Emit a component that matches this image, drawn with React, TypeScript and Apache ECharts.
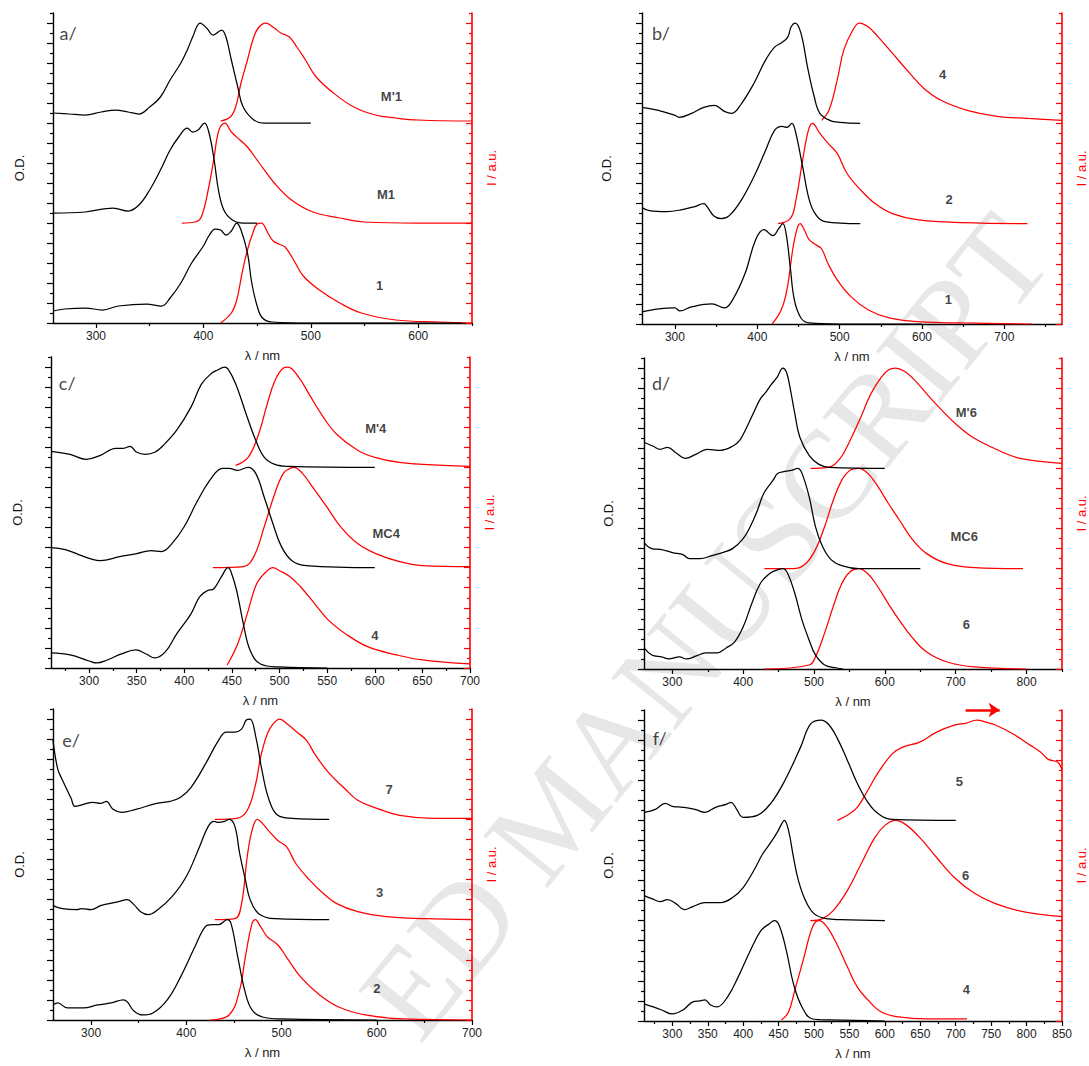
import React, { useEffect, useRef } from "react";
import * as echarts from "echarts";

type P = [number, number];

// ---------------- panel a ----------------
const aAbsM1p: P[] = [[260,0.10],[275,0.09],[290,0.08],[305,0.11],[318,0.13],[330,0.11],[340,0.09],[350,0.16],[360,0.26],[369,0.43],[379,0.60],[385,0.73],[390,0.86],[397,1.0],[403,0.95],[409,0.88],[417,0.93],[421,0.86],[426,0.63],[432,0.36],[437,0.16],[447,0.03],[456,0.0],[500,0.0]];
const aEmM1p: P[] = [[416,0.02],[425,0.06],[430,0.16],[435,0.40],[441,0.63],[446,0.83],[451,0.95],[458,1.0],[466,0.95],[472,0.90],[480,0.86],[487,0.76],[495,0.63],[505,0.46],[521,0.30],[540,0.16],[560,0.08],[579,0.05],[600,0.03],[650,0.02]];
const aAbsM1: P[] = [[260,0.10],[290,0.11],[316,0.15],[330,0.12],[340,0.18],[350,0.33],[360,0.53],[369,0.73],[377,0.86],[385,0.95],[390,0.91],[395,0.93],[401,1.0],[405,0.91],[410,0.63],[414,0.33],[419,0.13],[427,0.03],[437,0.0],[450,0.0]];
const aEmM1: P[] = [[380,0.0],[392,0.01],[398,0.06],[405,0.36],[410,0.66],[414.5,0.93],[420,1.0],[426,0.91],[434,0.83],[441,0.76],[452,0.60],[466,0.40],[482,0.23],[502,0.11],[527,0.05],[550,0.01],[600,0.0],[650,0.0]];
const aAbs1: P[] = [[260,0.12],[271,0.14],[290,0.15],[306,0.13],[321,0.17],[347,0.19],[361,0.17],[369,0.25],[379,0.40],[389,0.60],[400,0.77],[405,0.87],[411,0.94],[416,0.93],[421,0.88],[426,0.92],[431,1.0],[435,0.93],[441,0.70],[445,0.40],[450,0.17],[455,0.05],[464,0.01],[500,0.0],[640,0.0]];
const aEm1: P[] = [[416,0.0],[426,0.10],[431,0.23],[436,0.50],[441,0.73],[446,0.90],[450,0.99],[454,1.0],[460,0.90],[465,0.82],[470,0.79],[476,0.76],[484,0.63],[493,0.47],[508,0.33],[527,0.20],[547,0.10],[579,0.03],[620,0.01],[650,0.0]];

// ---------------- panel b ----------------
const bAbs4: P[] = [[260,0.16],[280,0.13],[300,0.08],[305,0.06],[320,0.10],[335,0.16],[348,0.18],[360,0.12],[369,0.10],[381,0.20],[396,0.40],[410,0.63],[421,0.76],[429,0.80],[437,0.86],[441,0.96],[446,1.0],[453,0.90],[461,0.56],[469,0.27],[476,0.10],[488,0.03],[500,0.01],[525,0.0]];
const bEm4: P[] = [[478,0.03],[487,0.13],[497,0.43],[505,0.73],[516,0.93],[524,1.0],[535,0.96],[547,0.86],[564,0.70],[585,0.50],[602,0.35],[623,0.23],[655,0.13],[691,0.07],[729,0.05],[770,0.03]];
const bAbs2: P[] = [[260,0.16],[269,0.13],[290,0.12],[309,0.14],[324,0.17],[335,0.20],[339,0.17],[347,0.08],[356,0.05],[366,0.08],[381,0.24],[396,0.47],[410,0.73],[421,0.93],[430,0.97],[436,0.96],[442,1.0],[446,0.93],[455,0.57],[463,0.24],[471,0.09],[482,0.02],[525,0.0]];
const bEm2: P[] = [[425,0.0],[440,0.05],[447,0.24],[455,0.63],[462,0.93],[467,1.0],[476,0.90],[486,0.80],[497,0.70],[509,0.50],[524,0.35],[543,0.20],[564,0.10],[594,0.04],[650,0.01],[728,0.0]];
const bAbs1: P[] = [[260,0.12],[280,0.15],[300,0.16],[306,0.13],[320,0.17],[345,0.20],[360,0.16],[370,0.24],[385,0.50],[398,0.84],[408,0.94],[419,0.88],[426,0.95],[431,1.0],[435,0.90],[440,0.57],[445,0.24],[453,0.06],[463,0.01],[500,0.0],[600,0.0]];
const bEm1: P[] = [[418,0.0],[429,0.14],[436,0.34],[443,0.74],[448,0.94],[452,1.0],[457,0.94],[463,0.84],[471,0.79],[478,0.75],[486,0.60],[497,0.44],[514,0.27],[535,0.14],[560,0.06],[598,0.02],[650,0.01],[734,0.0]];

// ---------------- panel c ----------------
const cAbsM4p: P[] = [[260,0.16],[280,0.13],[297,0.08],[312,0.12],[328,0.19],[336,0.19],[343,0.21],[350,0.15],[359,0.13],[369,0.15],[378,0.22],[392,0.37],[407,0.60],[418,0.83],[429,0.94],[435,0.97],[442,1.0],[446,0.98],[454,0.83],[465,0.53],[475,0.27],[484,0.10],[495,0.03],[509,0.01],[600,0.0]];
const cEmM4p: P[] = [[454,0.02],[467,0.10],[478,0.33],[487,0.63],[495,0.86],[504,0.99],[509,1.0],[520,0.90],[531,0.73],[546,0.50],[560,0.33],[582,0.17],[600,0.10],[626,0.05],[650,0.03],[700,0.01]];
const cAbsMC4: P[] = [[260,0.20],[275,0.18],[292,0.12],[301,0.09],[312,0.07],[332,0.11],[350,0.14],[365,0.17],[376,0.16],[387,0.24],[400,0.41],[414,0.67],[429,0.90],[440,0.99],[447,0.99],[456,0.97],[467,1.0],[475,0.94],[484,0.70],[493,0.44],[502,0.21],[513,0.07],[528,0.02],[600,0.0]];
const cEmMC4: P[] = [[430,0.0],[462,0.01],[473,0.11],[484,0.41],[495,0.74],[504,0.94],[511,0.99],[515,1.0],[524,0.94],[535,0.80],[550,0.60],[564,0.41],[582,0.24],[601,0.14],[626,0.06],[650,0.02],[700,0.01]];
const cAbs4: P[] = [[260,0.15],[280,0.13],[300,0.07],[308,0.05],[319,0.08],[334,0.14],[349,0.18],[360,0.14],[369,0.10],[380,0.16],[392,0.34],[407,0.54],[416,0.71],[424,0.77],[431,0.79],[439,0.91],[446,1.0],[449,0.96],[455,0.77],[462,0.44],[469,0.18],[480,0.04],[500,0.01],[550,0.0]];
const cEm4: P[] = [[445,0.03],[456,0.24],[467,0.57],[476,0.84],[486,0.96],[493,1.0],[500,0.97],[511,0.91],[522,0.81],[537,0.64],[551,0.48],[571,0.33],[593,0.21],[623,0.13],[650,0.08],[700,0.04]];

// ---------------- panel d ----------------
const dAbsM6p: P[] = [[260,0.26],[273,0.22],[283,0.19],[293,0.21],[306,0.15],[318,0.10],[333,0.14],[349,0.19],[368,0.18],[385,0.22],[395,0.28],[405,0.41],[415,0.56],[424,0.69],[432,0.76],[439,0.83],[448,0.91],[456,1.0],[461,0.96],[466,0.81],[473,0.54],[480,0.31],[493,0.13],[507,0.04],[522,0.01],[600,0.0]];
const dEmM6p: P[] = [[495,0.0],[520,0.01],[537,0.10],[551,0.28],[566,0.51],[580,0.74],[595,0.91],[605,0.98],[615,1.0],[627,0.97],[642,0.88],[663,0.71],[683,0.56],[702,0.43],[724,0.31],[754,0.20],[785,0.11],[820,0.07],[850,0.05]];
const dAbsMC6: P[] = [[260,0.26],[271,0.20],[285,0.19],[300,0.16],[315,0.14],[324,0.10],[339,0.10],[356,0.13],[371,0.16],[385,0.20],[400,0.30],[410,0.42],[420,0.58],[429,0.75],[442,0.88],[449,0.95],[459,0.97],[468,0.98],[477,1.0],[483,0.95],[493,0.72],[502,0.42],[512,0.22],[524,0.09],[539,0.03],[563,0.0],[650,0.0]];
const dEmMC6: P[] = [[430,0.0],[471,0.0],[488,0.05],[502,0.19],[515,0.42],[527,0.68],[539,0.88],[551,0.98],[563,1.0],[576,0.95],[590,0.82],[605,0.65],[620,0.49],[639,0.29],[659,0.15],[688,0.05],[727,0.01],[795,0.0]];
const dAbs6: P[] = [[260,0.21],[271,0.14],[285,0.12],[295,0.10],[310,0.12],[320,0.10],[334,0.13],[347,0.16],[363,0.16],[376,0.21],[388,0.27],[400,0.42],[412,0.65],[424,0.85],[437,0.95],[449,0.99],[456,1.0],[463,0.95],[473,0.75],[483,0.49],[493,0.29],[502,0.14],[515,0.04],[532,0.01],[541,0.0]];
const dEm6: P[] = [[430,0.0],[493,0.04],[502,0.12],[515,0.36],[527,0.62],[539,0.85],[551,0.97],[563,1.0],[576,0.95],[590,0.82],[605,0.65],[620,0.49],[639,0.31],[659,0.17],[688,0.07],[727,0.02],[800,0.0]];

// ---------------- panel e ----------------
const eAbs7: P[] = [[260,0.79],[265,0.50],[270,0.39],[279,0.21],[283,0.13],[292,0.15],[302,0.17],[310,0.16],[316,0.18],[323,0.10],[332,0.07],[347,0.10],[369,0.16],[383,0.18],[394,0.22],[405,0.32],[420,0.55],[434,0.79],[442,0.87],[451,0.87],[458,0.90],[463,0.99],[467,1.0],[473,0.82],[480,0.46],[487,0.19],[496,0.04],[511,0.01],[550,0.0]];
const eEm7: P[] = [[430,0.0],[453,0.01],[464,0.09],[473,0.36],[478,0.62],[485,0.85],[491,0.95],[498,1.0],[506,0.95],[516,0.87],[526,0.79],[535,0.65],[549,0.47],[566,0.31],[580,0.19],[600,0.11],[624,0.04],[661,0.01],[700,0.01]];
const eAbs3: P[] = [[260,0.14],[270,0.11],[285,0.10],[290,0.11],[300,0.10],[310,0.14],[319,0.16],[329,0.18],[338,0.20],[345,0.15],[352,0.08],[360,0.05],[370,0.10],[385,0.23],[400,0.43],[414,0.73],[423,0.93],[429,0.98],[434,0.97],[440,0.98],[445,1.0],[451,0.93],[456,0.66],[462,0.40],[467,0.20],[476,0.06],[493,0.01],[550,0.0]];
const eEm3: P[] = [[430,0.0],[451,0.01],[458,0.16],[464,0.63],[469,0.89],[474.5,1.0],[480,0.96],[487,0.88],[496,0.79],[505,0.73],[515,0.56],[529,0.40],[544,0.26],[558,0.16],[580,0.08],[610,0.03],[650,0.01],[700,0.0]];
const eAbs2: P[] = [[260,0.15],[265,0.17],[275,0.12],[292,0.12],[307,0.15],[321,0.17],[334,0.20],[338,0.18],[345,0.09],[354,0.05],[365,0.07],[380,0.20],[394,0.43],[409,0.73],[420,0.93],[427,0.95],[434,0.95],[443,1.0],[447,0.96],[454,0.63],[462,0.27],[469,0.10],[480,0.03],[500,0.01],[600,0.0]];
const eEm2: P[] = [[425,0.0],[445,0.05],[456,0.30],[462,0.63],[469,0.96],[472.6,1.0],[478,0.93],[485,0.83],[496,0.75],[505,0.63],[520,0.43],[540,0.25],[560,0.13],[588,0.05],[628,0.01],[700,0.0]];

// ---------------- panel f ----------------
const fAbs5: P[] = [[260,0.08],[276,0.11],[290,0.17],[300,0.14],[315,0.13],[332,0.11],[346,0.08],[361,0.13],[376,0.16],[383,0.18],[390,0.12],[400,0.03],[420,0.05],[439,0.17],[459,0.40],[481,0.73],[495,0.96],[510,1.0],[520,0.96],[532,0.83],[547,0.60],[561,0.37],[576,0.18],[590,0.07],[610,0.01],[700,0.0]];
const fEm5: P[] = [[533,0.0],[547,0.05],[561,0.13],[576,0.30],[590,0.47],[610,0.66],[625,0.73],[649,0.78],[673,0.88],[698,0.95],[715,0.97],[730,1.0],[742,0.98],[756,0.95],[781,0.86],[805,0.75],[820,0.68],[830,0.61],[844,0.58],[850,0.50]];
const fAbs6: P[] = [[260,0.25],[271,0.22],[283,0.19],[293,0.21],[305,0.17],[317,0.11],[329,0.14],[346,0.18],[368,0.18],[385,0.23],[400,0.33],[415,0.50],[427,0.66],[439,0.78],[448,0.88],[454,0.96],[458,1.0],[464,0.90],[471,0.63],[478,0.40],[488,0.20],[500,0.07],[517,0.02],[537,0.01],[600,0.0]];
const fEm6: P[] = [[495,0.0],[512,0.02],[527,0.10],[547,0.30],[566,0.56],[586,0.83],[600,0.95],[615,1.0],[629,0.96],[649,0.83],[673,0.63],[698,0.43],[727,0.27],[756,0.17],[795,0.09],[850,0.04]];
const fAbs4: P[] = [[260,0.17],[273,0.14],[285,0.11],[300,0.07],[315,0.11],[329,0.19],[339,0.20],[346,0.21],[354,0.16],[363,0.14],[378,0.24],[393,0.44],[410,0.70],[425,0.90],[437,0.97],[444,1.0],[451,0.95],[461,0.70],[471,0.37],[483,0.14],[498,0.02],[522,0.01],[600,0.0]];
const fEm4: P[] = [[454,0.01],[464,0.09],[473,0.31],[486,0.64],[498,0.94],[507,1.0],[517,0.95],[532,0.77],[547,0.54],[561,0.34],[576,0.21],[595,0.09],[620,0.04],[659,0.02],[716,0.02]];

// ---------------- ticks ----------------
const Y_MAJOR = [0, 0.2, 0.4, 0.6, 0.8, 1.0, 1.2, 1.4, 1.6, 1.8, 2.0, 2.2, 2.4, 2.6, 2.8, 3.0];
const Y_MINOR = [0.1, 0.3, 0.5, 0.7, 0.9, 1.1, 1.3, 1.5, 1.7, 1.9, 2.1, 2.3, 2.5, 2.7, 2.9, 3.1];
const XA_LABELS = [300, 400, 500, 600];
const XA_MINOR = [350, 450, 550, 650];
const XB_LABELS = [300, 400, 500, 600, 700];
const XB_MINOR = [350, 450, 550, 650, 750];
const XC_LABELS = [300, 350, 400, 450, 500, 550, 600, 650, 700];
const XC_MINOR = [275, 325, 375, 425, 475, 525, 575, 625, 675];
const XD_LABELS = [300, 400, 500, 600, 700, 800];
const XD_MINOR = [350, 450, 550, 650, 750, 850];
const XE_LABELS = [300, 400, 500, 600, 700];
const XE_MINOR = [350, 450, 550, 650];
const XF_LABELS = [300, 350, 400, 450, 500, 550, 600, 650, 700, 750, 800, 850];
const XF_MINOR = [275, 325, 375, 425, 475, 525, 575, 625, 675, 725, 775, 825];

// ---------------- curve labels (data coordinates) ----------------
const aLabels: [string, number, number][] = [["M'1", 575, 2.27], ["M1", 570, 1.29], ["1", 564, 0.38]];
const bLabels: [string, number, number][] = [["4", 625, 2.49], ["2", 633, 1.24], ["1", 632, 0.24]];
const cLabels: [string, number, number][] = [["M'4", 601, 2.39], ["MC4", 612, 1.34], ["4", 600, 0.32]];
const dLabels: [string, number, number][] = [["M'6", 715, 2.56], ["MC6", 712, 1.32], ["6", 715, 0.44]];
const eLabels: [string, number, number][] = [["7", 613, 2.30], ["3", 603, 1.27], ["2", 600, 0.31]];
const fLabels: [string, number, number][] = [["5", 705, 2.39], ["6", 714, 1.45], ["4", 715, 0.31]];

interface Curve { data: P[]; red: boolean; offset: number }
interface Panel {
  letter: string; letterAt: [number, number];
  xMin: number; xMax: number; xLabels: number[]; xMinor: number[];
  grid: { left: number; top: number; width: number; height: number };
  curves: Curve[]; labels: [string, number, number][];
}

const panels: Panel[] = [
  { letter: "a/", letterAt: [274, 2.9], xMin: 260, xMax: 650, xLabels: XA_LABELS, xMinor: XA_MINOR,
    grid: { left: 53, top: 13, width: 419, height: 310 }, labels: aLabels,
    curves: [
      { data: aAbsM1p, red: false, offset: 2 }, { data: aEmM1p, red: true, offset: 2 },
      { data: aAbsM1, red: false, offset: 1 }, { data: aEmM1, red: true, offset: 1 },
      { data: aAbs1, red: false, offset: 0 }, { data: aEm1, red: true, offset: 0 },
    ] },
  { letter: "b/", letterAt: [283, 2.9], xMin: 260, xMax: 770, xLabels: XB_LABELS, xMinor: XB_MINOR,
    grid: { left: 642, top: 13, width: 420, height: 311 }, labels: bLabels,
    curves: [
      { data: bAbs4, red: false, offset: 2 }, { data: bEm4, red: true, offset: 2 },
      { data: bAbs2, red: false, offset: 1 }, { data: bEm2, red: true, offset: 1 },
      { data: bAbs1, red: false, offset: 0 }, { data: bEm1, red: true, offset: 0 },
    ] },
  { letter: "c/", letterAt: [277, 2.84], xMin: 260, xMax: 700, xLabels: XC_LABELS, xMinor: XC_MINOR,
    grid: { left: 51, top: 357, width: 419, height: 311 }, labels: cLabels,
    curves: [
      { data: cAbsM4p, red: false, offset: 2 }, { data: cEmM4p, red: true, offset: 2 },
      { data: cAbsMC4, red: false, offset: 1 }, { data: cEmMC4, red: true, offset: 1 },
      { data: cAbs4, red: false, offset: 0 }, { data: cEm4, red: true, offset: 0 },
    ] },
  { letter: "d/", letterAt: [284, 2.85], xMin: 260, xMax: 850, xLabels: XD_LABELS, xMinor: XD_MINOR,
    grid: { left: 644, top: 358, width: 419, height: 311 }, labels: dLabels,
    curves: [
      { data: dAbsM6p, red: false, offset: 2 }, { data: dEmM6p, red: true, offset: 2 },
      { data: dAbsMC6, red: false, offset: 1 }, { data: dEmMC6, red: true, offset: 1 },
      { data: dAbs6, red: false, offset: 0 }, { data: dEm6, red: true, offset: 0 },
    ] },
  { letter: "e/", letterAt: [279, 2.79], xMin: 260, xMax: 700, xLabels: XE_LABELS, xMinor: XE_MINOR,
    grid: { left: 53, top: 709, width: 419, height: 311 }, labels: eLabels,
    curves: [
      { data: eAbs7, red: false, offset: 2 }, { data: eEm7, red: true, offset: 2 },
      { data: eAbs3, red: false, offset: 1 }, { data: eEm3, red: true, offset: 1 },
      { data: eAbs2, red: false, offset: 0 }, { data: eEm2, red: true, offset: 0 },
    ] },
  { letter: "f/", letterAt: [282, 2.82], xMin: 260, xMax: 850, xLabels: XF_LABELS, xMinor: XF_MINOR,
    grid: { left: 644, top: 710, width: 419, height: 311 }, labels: fLabels,
    curves: [
      { data: fAbs5, red: false, offset: 2 }, { data: fEm5, red: true, offset: 2 },
      { data: fAbs6, red: false, offset: 1 }, { data: fEm6, red: true, offset: 1 },
      { data: fAbs4, red: false, offset: 0 }, { data: fEm4, red: true, offset: 0 },
    ] },
];

const RED = "#ff0000";
const FONT = "Liberation Sans";

function buildOption() {
  const grid: any[] = [];
  const xAxis: any[] = [];
  const yAxis: any[] = [];
  const series: any[] = [];

  panels.forEach((p, i) => {
    grid.push({ ...p.grid, containLabel: false });
    const xi = xAxis.length;
    xAxis.push({
      type: "value", gridIndex: i, min: p.xMin, max: p.xMax, position: "bottom",
      axisLine: { show: true, onZero: false, lineStyle: { color: "#000", width: 1.3 } },
      axisTick: { show: true, inside: false, length: 5, customValues: p.xLabels, lineStyle: { color: "#000", width: 1.2 } },
      axisLabel: { show: true, customValues: p.xLabels, fontSize: 12, color: "#222", fontFamily: FONT, margin: 7 },
      splitLine: { show: false },
      name: "λ / nm", nameLocation: "middle", nameGap: 26,
      nameTextStyle: { fontSize: 13, color: "#222", fontFamily: FONT },
    });
    xAxis.push({
      type: "value", gridIndex: i, min: p.xMin, max: p.xMax, position: "bottom",
      axisLine: { show: false, onZero: false },
      axisTick: { show: true, inside: false, length: 3, customValues: p.xMinor, lineStyle: { color: "#000", width: 1.2 } },
      axisLabel: { show: false }, splitLine: { show: false },
    });
    const yl = yAxis.length;
    const left = i % 2 === 0;
    yAxis.push({
      type: "value", gridIndex: i, min: 0, max: 3.1, position: "left",
      axisLine: { show: true, onZero: false, lineStyle: { color: "#000", width: 1.4 } },
      axisTick: { show: true, inside: false, length: 6, customValues: Y_MAJOR, lineStyle: { color: "#000", width: 1.2 } },
      axisLabel: { show: false }, splitLine: { show: false },
      name: "O.D.", nameLocation: "middle", nameGap: left ? 27 : 29,
      nameTextStyle: { fontSize: 13, color: "#111", fontFamily: FONT },
    });
    yAxis.push({
      type: "value", gridIndex: i, min: 0, max: 3.1, position: "left",
      axisLine: { show: false, onZero: false },
      axisTick: { show: true, inside: false, length: 3, customValues: Y_MINOR, lineStyle: { color: "#000", width: 1.2 } },
      axisLabel: { show: false }, splitLine: { show: false },
    });
    yAxis.push({
      type: "value", gridIndex: i, min: 0, max: 3.1, position: "right",
      axisLine: { show: true, onZero: false, lineStyle: { color: RED, width: 1.6 } },
      axisTick: { show: true, inside: true, length: 6, customValues: Y_MAJOR, lineStyle: { color: RED, width: 1.2 } },
      axisLabel: { show: false }, splitLine: { show: false },
      name: "I / a.u.", nameLocation: "middle", nameGap: 13,
      nameTextStyle: { fontSize: 13, color: RED, fontFamily: FONT },
    });
    yAxis.push({
      type: "value", gridIndex: i, min: 0, max: 3.1, position: "right",
      axisLine: { show: false, onZero: false },
      axisTick: { show: true, inside: true, length: 3, customValues: Y_MINOR, lineStyle: { color: RED, width: 1.2 } },
      axisLabel: { show: false }, splitLine: { show: false },
    });

    p.curves.forEach((c, k) => {
      const s: any = {
        type: "line", xAxisIndex: xi, yAxisIndex: c.red ? yl + 2 : yl,
        data: c.data.map(([x, v]) => [x, v + c.offset]),
        showSymbol: false, symbol: "none", smooth: 0.4,
        lineStyle: { color: c.red ? RED : "#000", width: 1.25 },
        itemStyle: { color: c.red ? RED : "#000" },
        z: c.red ? 3 : 4, silent: true,
      };
      if (i === 5 && k === 1) {
        s.markLine = {
          silent: true, symbol: ["none", "arrow"], symbolSize: 11,
          label: { show: false },
          lineStyle: { color: RED, width: 2.5, type: "solid" },
          data: [[{ coord: [714, 3.1] }, { coord: [762, 3.1] }]],
        };
      }
      series.push(s);
    });

    const labelData: any[] = p.labels.map(([t, x, y]) => ({ name: t, value: [x, y] }));
    labelData.push({
      name: p.letter, value: p.letterAt,
      label: { fontWeight: "normal", fontSize: 18, fontFamily: "Lato", color: "#111" },
    });
    series.push({
      type: "scatter", xAxisIndex: xi, yAxisIndex: yl, symbolSize: 1,
      itemStyle: { color: "rgba(0,0,0,0)" }, silent: true, z: 6,
      label: { show: true, position: "inside", formatter: "{b}", fontWeight: "bold", fontSize: 13, fontFamily: FONT, color: "#111" },
      data: labelData,
    });
  });

  return {
    animation: false,
    backgroundColor: "#fff",
    grid, xAxis, yAxis, series,
    graphic: [
      {
        type: "text", x: 705, y: 626, rotation: 0.89, z: -100, silent: true,
        style: {
          text: "ED MANUSCRIPT", fontSize: 126, fontFamily: "Liberation Serif",
          fill: "#e7e7e7", align: "center", verticalAlign: "middle",
          textAlign: "center", textVerticalAlign: "middle",
        },
      },
    ],
  };
}

export default function App() {
  const ref = useRef<HTMLDivElement>(null);
  useEffect(() => {
    if (!ref.current) return;
    const chart = echarts.init(ref.current, undefined, { renderer: "svg" });
    chart.setOption(buildOption() as any);
    return () => chart.dispose();
  }, []);
  return <div ref={ref} style={{ position: "absolute", left: 0, top: 0, width: 1089, height: 1066 }} />;
}
